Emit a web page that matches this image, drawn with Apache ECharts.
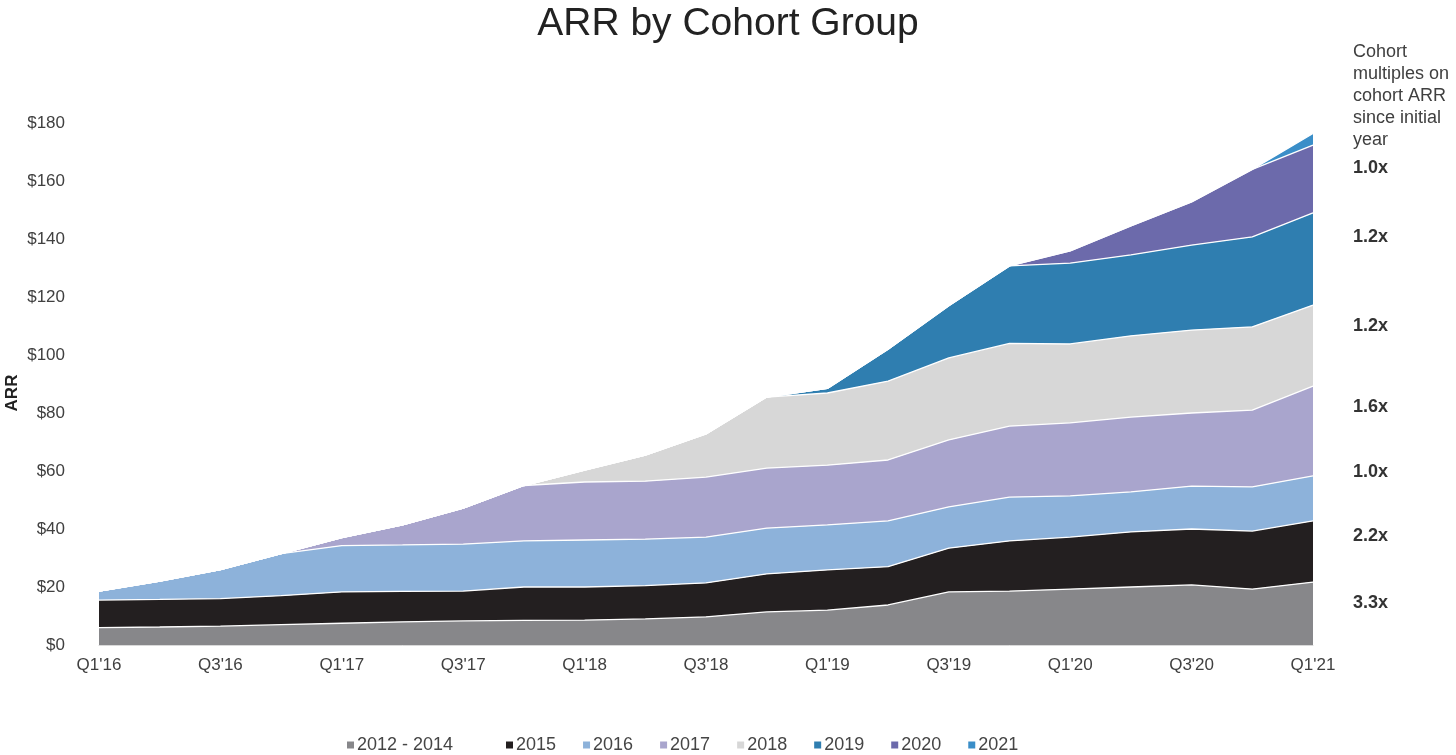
<!DOCTYPE html>
<html>
<head>
<meta charset="utf-8">
<title>ARR by Cohort Group</title>
<script src="https://cdn.jsdelivr.net/npm/echarts/dist/echarts.min.js"></script>
<style>
  html, body { margin: 0; padding: 0; background: #fff; }
  #chart { width: 1456px; height: 755px; }
</style>
</head>
<body>
<div id="chart"></div>
<script>
// quarters Q1'16 .. Q1'21
const quarters = ["Q1'16", "Q2'16", "Q3'16", "Q4'16", "Q1'17", "Q2'17", "Q3'17", "Q4'17",
  "Q1'18", "Q2'18", "Q3'18", "Q4'18", "Q1'19", "Q2'19", "Q3'19", "Q4'19",
  "Q1'20", "Q2'20", "Q3'20", "Q4'20", "Q1'21"];

// ARR per cohort ($M)
const c2012_2014 = [6, 6.2, 6.5, 7, 7.5, 8, 8.3, 8.5, 8.6, 9, 9.7, 11.4, 12, 13.8, 18.3, 18.6, 19.3, 20, 20.7, 19.3, 21.7];
const c2015 = [9.5, 9.5, 9.5, 10, 10.8, 10.5, 10.3, 11.5, 11.4, 11.5, 11.7, 13.1, 13.9, 13.2, 15.1, 17.3, 17.9, 19, 19.3, 20, 21.1];
const c2016 = [3.1, 6.3, 10, 14.5, 16, 16, 16.2, 15.9, 16.2, 16, 15.8, 15.8, 15.5, 15.8, 14.2, 15.1, 14.2, 13.8, 14.8, 15.2, 15.5];
const c2017 = [0, 0, 0, 0, 2.7, 6.9, 12.4, 19.1, 20, 20, 20.7, 20.7, 20.6, 21, 23.1, 24.5, 25.2, 25.8, 25.2, 26.5, 31];
const c2018 = [0, 0, 0, 0, 0, 0, 0, 0, 4.1, 9, 14.9, 24.5, 24.9, 27.2, 28.3, 28.5, 27.2, 28, 28.6, 28.7, 27.9];
const c2019 = [0, 0, 0, 0, 0, 0, 0, 0, 0, 0, 0, 0, 1.6, 11, 18, 26.7, 27.9, 27.9, 29.3, 31, 31.8];
const c2020 = [0, 0, 0, 0, 0, 0, 0, 0, 0, 0, 0, 0, 0, 0, 0, 0, 4.2, 10, 14.9, 23.3, 23.4];
const c2021 = [0, 0, 0, 0, 0, 0, 0, 0, 0, 0, 0, 0, 0, 0, 0, 0, 0, 0, 0, 0, 4];

const cohortNames = ["2012 - 2014", "2015", "2016", "2017", "2018", "2019", "2020", "2021"];
const cohortData = [c2012_2014, c2015, c2016, c2017, c2018, c2019, c2020, c2021];
const cohortColors = ["#87878a", "#231f20", "#8db2da", "#a9a5cd", "#d7d7d7", "#2f7eb0", "#6c6aab", "#3a8ec8"];

// right-hand annotation, top to bottom (2020 .. 2012-2014)
const noteTitle = ["Cohort", "multiples on", "cohort ARR", "since initial", "year"];
const multiples = ["1.0x", "1.2x", "1.2x", "1.6x", "1.0x", "2.2x", "3.3x"];
const multipleTops = [159, 228, 317, 398, 463, 527, 594];

const FONT = "Liberation Sans, Arial, sans-serif";

const chart = echarts.init(document.getElementById("chart"));

const series = cohortNames.map(function (name, i) {
  return {
    name: name,
    type: "line",
    stack: "arr",
    data: cohortData[i],
    showSymbol: false,
    symbol: "none",
    lineStyle: { color: "#ffffff", width: 1.3 },
    areaStyle: { color: cohortColors[i], opacity: 1 },
    itemStyle: { color: cohortColors[i] },
    emphasis: { disabled: true },
    z: 2
  };
});

const graphics = [];
noteTitle.forEach(function (t, i) {
  graphics.push({
    type: "text", left: 1353, top: 43 + i * 22,
    style: { text: t, font: "18px " + FONT, fill: "#404040" }
  });
});
multiples.forEach(function (t, i) {
  graphics.push({
    type: "text", left: 1353, top: multipleTops[i],
    style: { text: t, font: "bold 18px " + FONT, fill: "#333333" }
  });
});
// y axis title
graphics.push({
  type: "text", x: 12, y: 393, rotation: Math.PI / 2,
  style: { text: "ARR", font: "bold 17px " + FONT, fill: "#222222", align: "center", verticalAlign: "middle" }
});

const option = {
  animation: false,
  color: cohortColors,
  title: {
    text: "ARR by Cohort Group",
    left: "center",
    top: 0,
    textStyle: { fontFamily: FONT, fontSize: 39, fontWeight: "normal", color: "#222222" }
  },
  grid: { left: 99, right: 143, top: 123, bottom: 110, outerBoundsMode: "none", containLabel: false },
  legend: [
    {
      data: ["2012 - 2014"],
      left: 342, top: 731,
      icon: "rect", itemWidth: 7, itemHeight: 7, itemGap: 25,
      textStyle: { fontFamily: FONT, fontSize: 18, color: "#454545", padding: [0, 0, 0, -2] }
    },
    {
      data: cohortNames.slice(1),
      left: 501, top: 731,
      icon: "rect", itemWidth: 7, itemHeight: 7, itemGap: 27,
      textStyle: { fontFamily: FONT, fontSize: 18, color: "#454545", padding: [0, 0, 0, -2] }
    }
  ],
  xAxis: {
    type: "category",
    data: quarters,
    boundaryGap: false,
    axisLine: { show: true, lineStyle: { color: "#d9d9d9" } },
    axisTick: { show: false },
    axisLabel: { interval: 1, fontFamily: FONT, fontSize: 17, color: "#404040", margin: 12 }
  },
  yAxis: {
    type: "value",
    min: 0, max: 180, interval: 20,
    axisLine: { show: false },
    axisTick: { show: false },
    splitLine: { show: false },
    axisLabel: {
      fontFamily: FONT, fontSize: 17, color: "#404040", margin: 34,
      formatter: function (v) { return "$" + v; }
    }
  },
  graphic: graphics,
  series: series
};

chart.setOption(option);
</script>
</body>
</html>
